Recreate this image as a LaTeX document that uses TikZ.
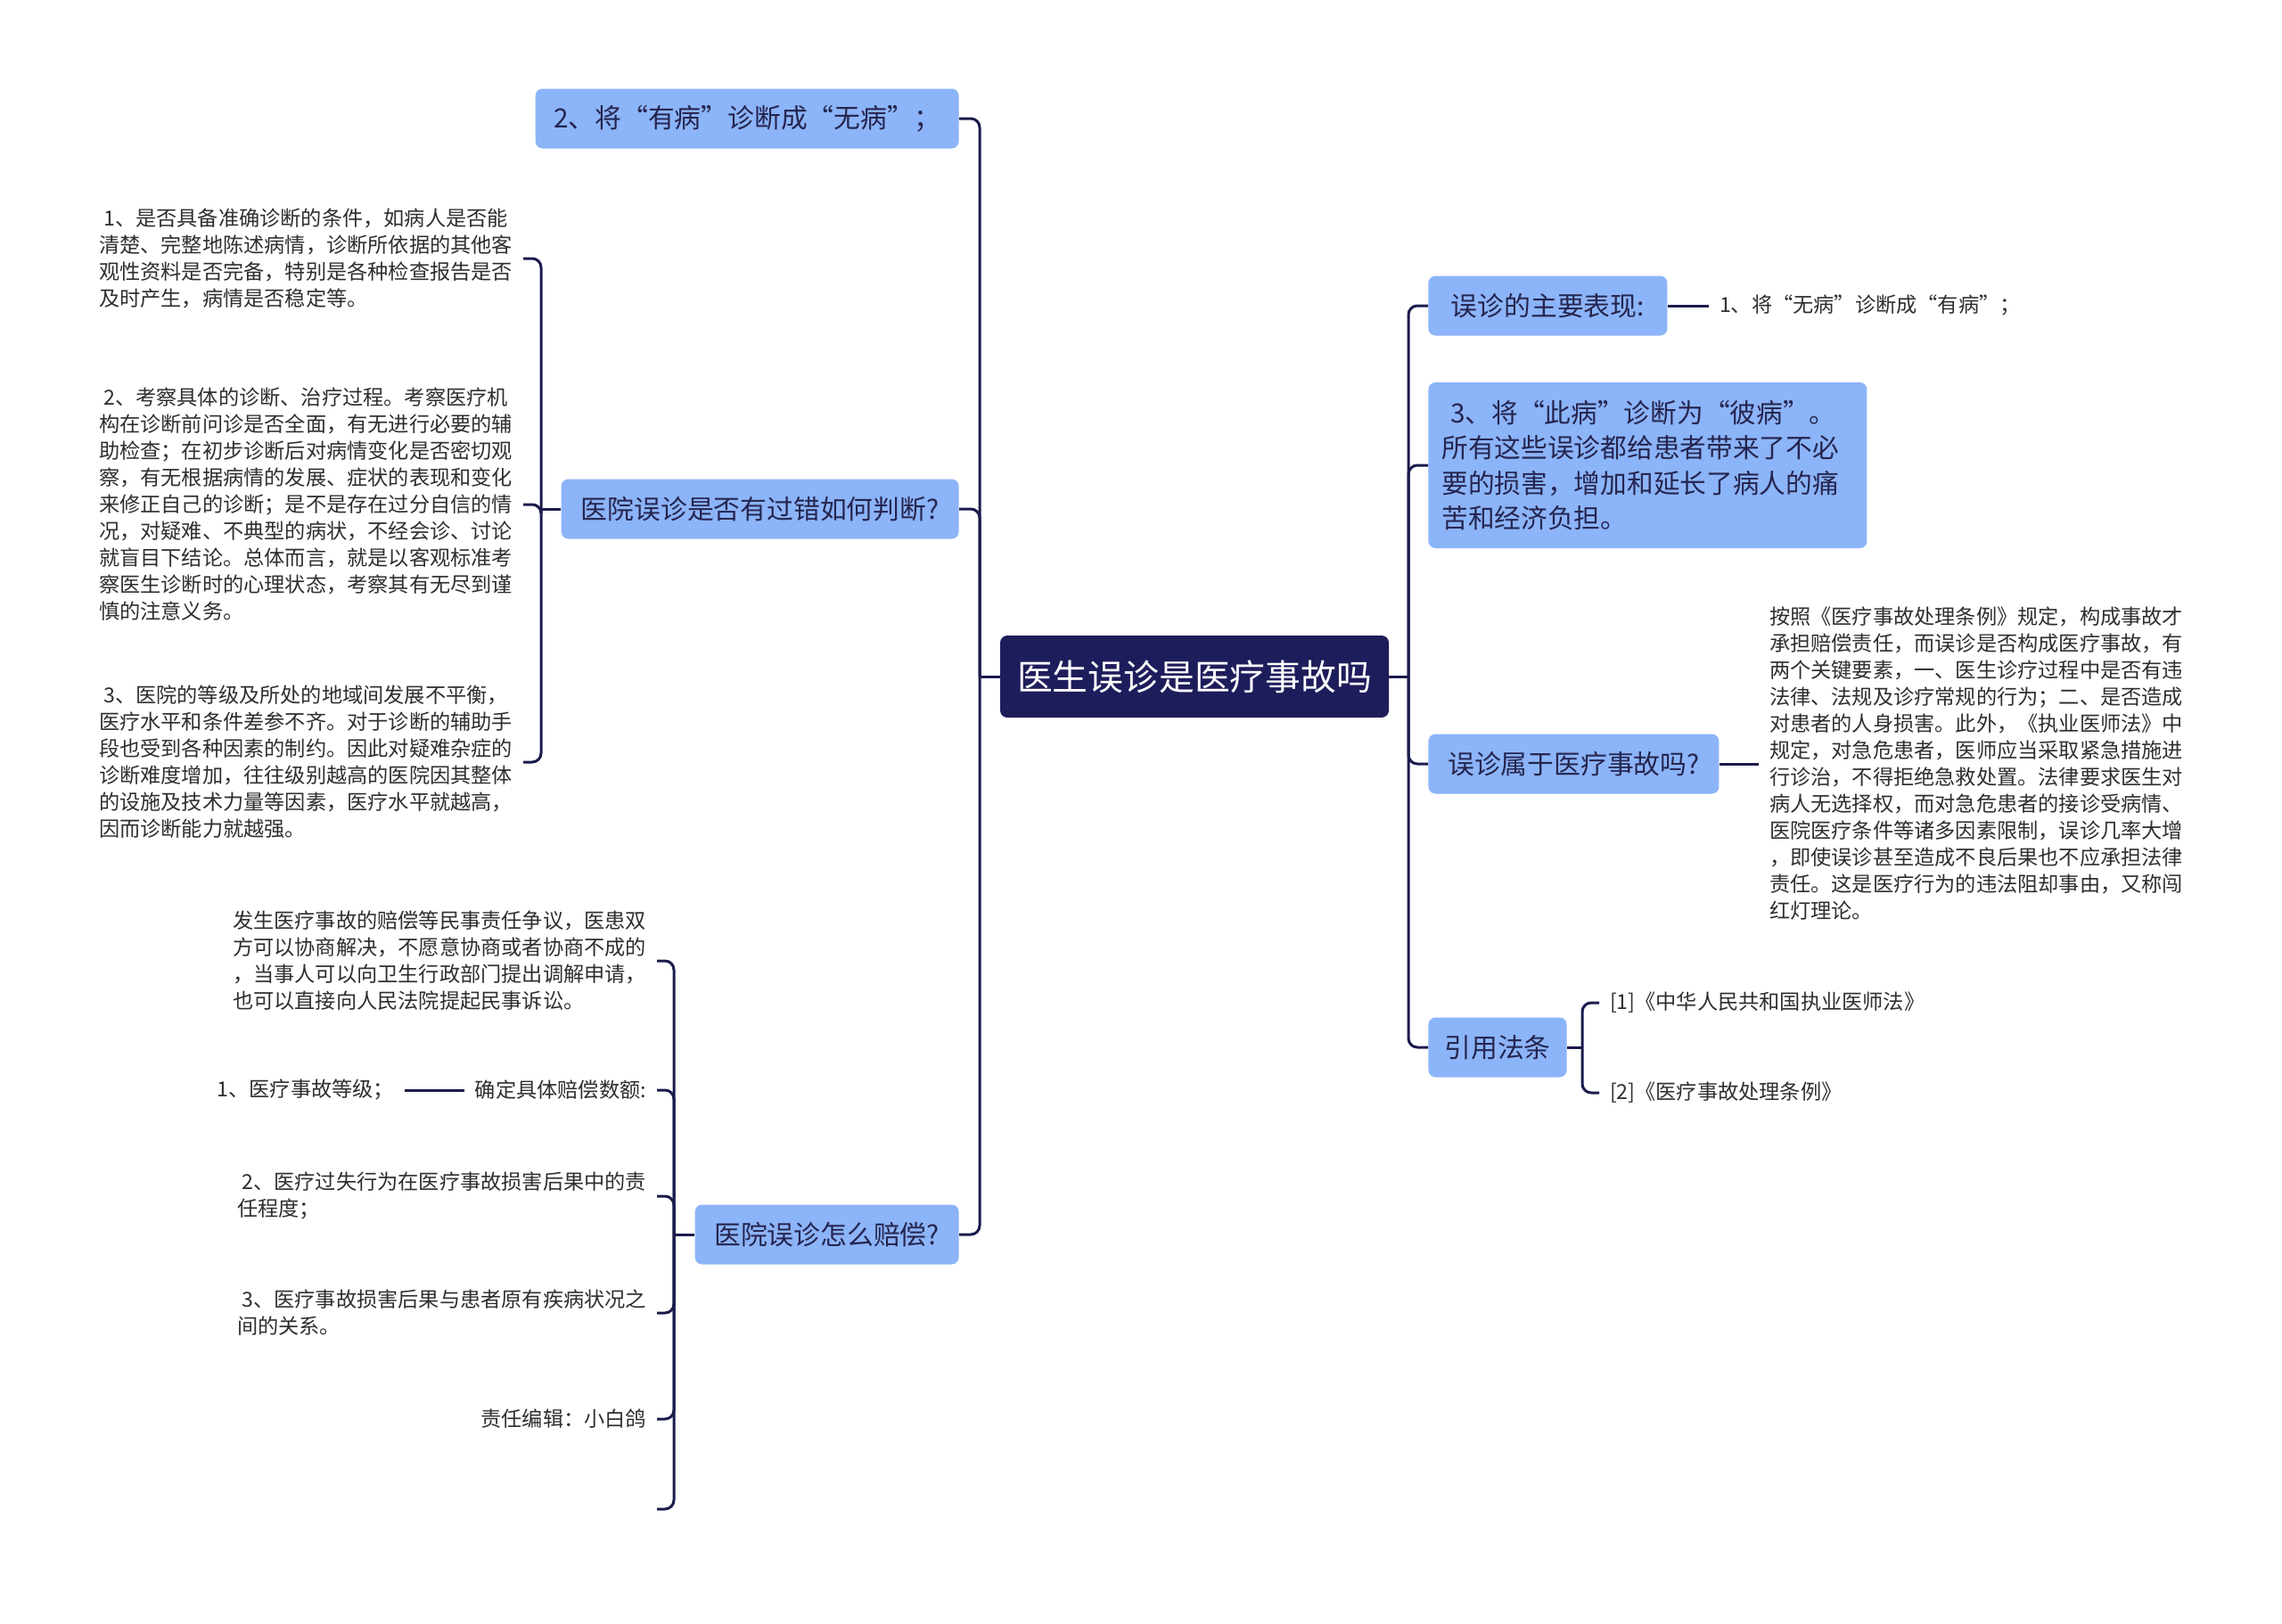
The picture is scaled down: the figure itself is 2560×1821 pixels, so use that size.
\documentclass[tikz,border=0pt]{standalone}
\usepackage{fontspec}
\setmainfont{Noto Sans CJK SC}
\usetikzlibrary{positioning, calc}

\definecolor{navy}{HTML}{1E1D5C}
\definecolor{linkcol}{HTML}{1B1B4D}
\definecolor{branchfill}{HTML}{8CB4F8}
\definecolor{branchtext}{HTML}{25254F}
\definecolor{leaftext}{HTML}{2E2E2E}

\begin{document}
\begin{tikzpicture}[
    x=0.5pt, y=-0.5pt,
    topic/.style={fill=navy, text=white, rounded corners=4pt, minimum width=218pt,
                  minimum height=46pt, font=\fontsize{19.9}{23}\selectfont},
    branch/.style={fill=branchfill, text=branchtext, rounded corners=4pt,
                   minimum height=33.5pt, inner xsep=9pt,
                   font=\fontsize{14.9}{19}\selectfont},
    leaf/.style={align=left, text=leaftext, inner sep=0pt, outer sep=6pt,
                 font=\fontsize{11.6}{15}\selectfont},
    link/.style={draw=linkcol, line width=1.5pt, rounded corners=5pt},
]
    \useasboundingbox (0,0) rectangle (2560,1821);

    %==================== ROOT ====================
    \node[topic] (root) at (1340,759) {医生误诊是医疗事故吗};

    %==================== LEFT BRANCHES ====================
    \node[branch, anchor=east, minimum width=237.5pt] (wrong) at (1076,133)
        {2、将“有病”诊断成“无病”；};
    \node[branch, anchor=east, minimum width=223pt] (judge) at (1076,571)
        {医院误诊是否有过错如何判断?};
    \node[branch, anchor=east, minimum width=148pt] (comp) at (1076,1385)
        {医院误诊怎么赔偿?};

    \coordinate (ltrunk) at (1099,759);
    \draw[link] (root.west) -- (ltrunk);
    \draw[link] (ltrunk) |- (wrong.east);
    \draw[link] (ltrunk) |- (judge.east);
    \draw[link] (ltrunk) |- (comp.east);

    %==================== RIGHT BRANCHES ====================
    \node[branch, anchor=west, minimum width=134pt] (manif) at (1602,343)
        {误诊的主要表现:};
    \node[branch, anchor=west, align=left, text width=231pt, inner xsep=7.5pt,
          inner ysep=10pt, font=\fontsize{14.85}{19.75}\selectfont] (other) at (1602,522)
        {\ 3、将“此病”诊断为“彼病”。\\
         所有这些误诊都给患者带来了不必\\
         要的损害，增加和延长了病人的痛\\
         苦和经济负担。};
    \node[branch, anchor=west, minimum width=163pt] (acc) at (1602,857)
        {误诊属于医疗事故吗?};
    \node[branch, anchor=west, minimum width=74pt] (law) at (1602,1175)
        {引用法条};

    \coordinate (rtrunk) at (1580,759);
    \draw[link] (root.east) -- (rtrunk);
    \draw[link] (rtrunk) |- (manif.west);
    \draw[link] (rtrunk) |- (other.west);
    \draw[link] (rtrunk) |- (acc.west);
    \draw[link] (rtrunk) |- (law.west);

    %==================== JUDGE: LEAVES ====================
    \node[leaf, anchor=east] (judge1) at (587,290)
        {\ 1、是否具备准确诊断的条件，如病人是否能\\
         清楚、完整地陈述病情，诊断所依据的其他客\\
         观性资料是否完备，特别是各种检查报告是否\\
         及时产生，病情是否稳定等。};
    \node[leaf, anchor=east] (judge2) at (587,566)
        {\ 2、考察具体的诊断、治疗过程。考察医疗机\\
         构在诊断前问诊是否全面，有无进行必要的辅\\
         助检查；在初步诊断后对病情变化是否密切观\\
         察，有无根据病情的发展、症状的表现和变化\\
         来修正自己的诊断；是不是存在过分自信的情\\
         况，对疑难、不典型的病状，不经会诊、讨论\\
         就盲目下结论。总体而言，就是以客观标准考\\
         察医生诊断时的心理状态，考察其有无尽到谨\\
         慎的注意义务。};
    \node[leaf, anchor=east] (judge3) at (587,855)
        {\ 3、医院的等级及所处的地域间发展不平衡，\\
         医疗水平和条件差参不齐。对于诊断的辅助手\\
         段也受到各种因素的制约。因此对疑难杂症的\\
         诊断难度增加，往往级别越高的医院因其整体\\
         的设施及技术力量等因素，医疗水平就越高，\\
         因而诊断能力就越强。};

    \coordinate (jbrace) at (607,571);
    \draw[link] (judge.west) -- (jbrace);
    \draw[link] (jbrace) |- (judge1.east);
    \draw[link] (jbrace) -- (jbrace |- judge2.east) -- (judge2.east);
    \draw[link] (jbrace) |- (judge3.east);

    %==================== COMP: LEAVES ====================
    \node[leaf, anchor=east] (compA) at (737,1078)
        {发生医疗事故的赔偿等民事责任争议，医患双\\
         方可以协商解决，不愿意协商或者协商不成的\\
         ，当事人可以向卫生行政部门提出调解申请，\\
         也可以直接向人民法院提起民事诉讼。};
    \node[leaf, anchor=east] (amount) at (737,1223) {确定具体赔偿数额:};
    \node[leaf, anchor=east] (grade) at (454,1223) {1、医疗事故等级；};
    \node[leaf, anchor=east] (comp2) at (737,1342)
        {\ 2、医疗过失行为在医疗事故损害后果中的责\\
         任程度；};
    \node[leaf, anchor=east] (comp3) at (737,1473)
        {\ 3、医疗事故损害后果与患者原有疾病状况之\\
         间的关系。};
    \node[leaf, anchor=east] (editor) at (737,1592) {责任编辑：小白鸽};
    \coordinate (blank) at (737,1693);

    \coordinate (cbrace) at (756,1385);
    \draw[link] (comp.west) -- (cbrace);
    \draw[link] (cbrace) |- (compA.east);
    \draw[link] (cbrace) |- (amount.east);
    \draw[link] (cbrace) |- (comp2.east);
    \draw[link] (cbrace) |- (comp3.east);
    \draw[link] (cbrace) |- (editor.east);
    \draw[link] (cbrace) |- (blank);
    \draw[link] (amount.west) -- (grade.east);

    %==================== RIGHT: LEAVES ====================
    \node[leaf, anchor=west] (nodis) at (1917,343) {1、将“无病”诊断成“有病”；};
    \draw[link] (manif.east) -- (nodis.west);

    \node[leaf, anchor=west] (accnote) at (1973,857)
        {按照《医疗事故处理条例》规定，构成事故才\\
         承担赔偿责任，而误诊是否构成医疗事故，有\\
         两个关键要素，一、医生诊疗过程中是否有违\\
         法律、法规及诊疗常规的行为；二、是否造成\\
         对患者的人身损害。此外，《执业医师法》中\\
         规定，对急危患者，医师应当采取紧急措施进\\
         行诊治，不得拒绝急救处置。法律要求医生对\\
         病人无选择权，而对急危患者的接诊受病情、\\
         医院医疗条件等诸多因素限制，误诊几率大增\\
         ，即使误诊甚至造成不良后果也不应承担法律\\
         责任。这是医疗行为的违法阻却事由，又称闯\\
         红灯理论。};
    \draw[link] (acc.east) -- (accnote.west);

    \node[leaf, anchor=west] (law1) at (1794,1125) {[1]《中华人民共和国执业医师法》};
    \node[leaf, anchor=west] (law2) at (1794,1226) {[2]《医疗事故处理条例》};
    \coordinate (lbrace) at (1775,1175);
    \draw[link] (law.east) -- (lbrace);
    \draw[link] (lbrace) |- (law1.west);
    \draw[link] (lbrace) |- (law2.west);

\end{tikzpicture}
\end{document}
